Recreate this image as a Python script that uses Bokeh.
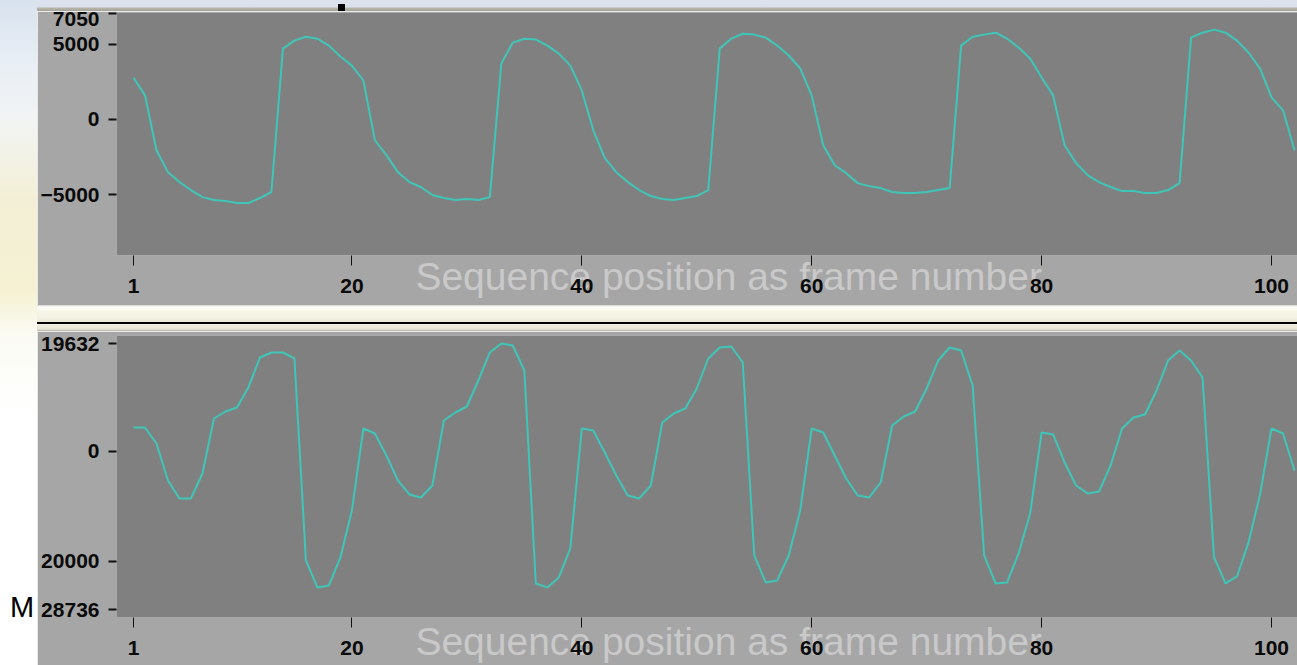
from bokeh.plotting import figure
from bokeh.models import FixedTicker, Div, ColumnDataSource, Range1d, LinearAxis
from bokeh.layouts import row, column
from bokeh.embed import file_html
from bokeh.resources import INLINE

# ---------------- data ----------------
frames = list(range(1, 103))

top_values = [2780, 1590, -2050, -3510, -4170, -4700, -5170, -5360, -5430, -5560,
              -5560, -5230, -4830, 4700, 5230, 5490, 5360, 4900, 4170, 3570,
              2580, -1390, -2380, -3510, -4170, -4500, -5030, -5230, -5360, -5300,
              -5360, -5170, 3710, 5100, 5360, 5300, 4900, 4370, 3570, 1920,
              -730, -2580, -3510, -4170, -4700, -5100, -5300, -5360, -5230, -5100,
              -4700, 4700, 5360, 5690, 5630, 5430, 4900, 4240, 3380, 1590,
              -1720, -3050, -3580, -4240, -4440, -4570, -4830, -4900, -4900, -4830,
              -4700, -4570, 4900, 5490, 5630, 5760, 5360, 4770, 4040, 2780,
              1590, -1720, -2910, -3710, -4170, -4500, -4770, -4770, -4900, -4900,
              -4700, -4240, 5430, 5760, 5960, 5760, 5230, 4440, 3380, 1460,
              600, -2050]

bottom_values = [4360, 4360, 1450, -5270, -8540, -8540, -4000, 6000, 7270, 8000,
                 11640, 17090, 18000, 18000, 16910, -19820, -24720, -24360, -19270, -10730,
                 4180, 3270, -730, -5270, -7820, -8360, -6180, 5640, 7090, 8180,
                 12910, 18000, 19630, 19270, 14730, -24000, -24720, -22910, -17630, 4180,
                 3820, -180, -4360, -8000, -8540, -6180, 5270, 6910, 7820, 11450,
                 16910, 18910, 19090, 16180, -18910, -23820, -23450, -18910, -10730, 4180,
                 3450, -730, -4910, -8000, -8360, -5640, 4730, 6360, 7270, 11450,
                 16540, 18910, 18360, 12000, -18910, -24000, -23820, -18540, -11270, 3450,
                 3090, -2000, -6180, -7640, -7270, -2550, 4180, 6180, 6730, 11090,
                 16540, 18360, 16540, 13450, -19270, -24000, -22730, -16540, -7820, 4180,
                 3270, -3450]

x_ticks = [1, 20, 40, 60, 80, 100]
top_y_ticks = [-5000, 0, 5000, 7050]
bottom_y_ticks = [-28736, -20000, 0, 19632]
# labels as they appear in the picture (minus signs clipped by the window edge)
bottom_y_labels = {-28736: "28736", -20000: "20000", 0: "0", 19632: "19632"}
axis_title = "Sequence position as frame number"

# ---------------- style ----------------
LINE = "#3ec6b8"
FRAME = "#808080"
PANEL = "#a6a6a6"
TICK_FONT = "Liberation Sans"
NBSP = "\u00a0"


def make_panel(values, y_start, y_end, y_ticks, overrides, height, top_b, bottom_b, title_standoff):
    src = ColumnDataSource(dict(frame=frames, value=values))
    p = figure(width=1260, height=height, output_backend="svg", toolbar_location=None,
               x_range=Range1d(-0.478, 102.26), y_range=Range1d(y_start, y_end),
               min_border_left=78, min_border_right=0,
               min_border_top=top_b, min_border_bottom=bottom_b,
               background_fill_color=FRAME, border_fill_color=PANEL,
               outline_line_color=None, margin=0)
    p.line("frame", "value", source=src, line_color=LINE, line_width=2)
    p.grid.visible = False

    for ax in (p.xaxis[0], p.yaxis[0]):
        ax.axis_line_color = None
        ax.major_tick_in = 0
        ax.minor_tick_in = 0
        ax.minor_tick_out = 0
        ax.major_tick_line_color = "#111111"
        ax.major_label_text_font = TICK_FONT
        ax.major_label_text_font_style = "bold"
        ax.major_label_text_font_size = "21px"
        ax.major_label_text_color = "#0a0a0a"

    xa = p.xaxis[0]
    xa.ticker = FixedTicker(ticks=x_ticks)
    xa.major_tick_out = 10
    xa.major_tick_line_width = 1
    xa.major_label_standoff = 13
    xa.level = "annotation"          # tick labels drawn over the faint axis title

    ya = p.yaxis[0]
    ya.ticker = FixedTicker(ticks=y_ticks)
    ya.major_tick_out = 8
    ya.major_tick_line_width = 2
    ya.major_label_standoff = 9
    if overrides:
        ya.major_label_overrides = overrides

    # faint axis title, pulled up so that it sits behind the tick labels
    title_axis = LinearAxis(ticker=FixedTicker(ticks=[]), axis_label=NBSP * 4 + axis_title,
                            axis_label_standoff=title_standoff,
                            axis_label_text_font="Liberation Sans",
                            axis_label_text_font_size="39px",
                            axis_label_text_font_style="normal",
                            axis_label_text_color="#c9c9c9",
                            axis_line_color=None, major_tick_out=0, major_tick_in=0,
                            minor_tick_out=0, minor_tick_in=0, major_label_standoff=0,
                            level="guide")
    p.add_layout(title_axis, "below")
    return p


top = make_panel(top_values, -9050, 7100, top_y_ticks, None,
                 height=294, top_b=1, bottom_b=50, title_standoff=-41)
bottom = make_panel(bottom_values, -30190, 21090, bottom_y_ticks, bottom_y_labels,
                    height=334, top_b=4, bottom_b=48, title_standoff=-38)

top_strip = Div(text="<div style='margin-left:301px;width:7px;height:8px;background:#000'></div>",
                width=1260, height=11, margin=0,
                styles={"background": "linear-gradient(to bottom, #dde3ee 0px, #dbe1ec 7px, "
                                      "#b9b7aa 8px, #a9a79a 10px, #a6a6a6 11px)",
                        "overflow": "hidden"})

separator = Div(text="", width=1260, height=26, margin=0,
                styles={"background": "linear-gradient(to bottom, #d4d2c4 0px, #ffffff 2px, "
                                      "#f8f6ea 6px, #f3f1e2 13px, #e8e6d6 17px, #000000 17px, "
                                      "#000000 19px, #f2f0e2 19px, #e6e4d4 24px, #b8b6aa 26px)"})

left_strip = Div(text="<div style='height:593px'></div>"
                      "<div style=\"padding-left:10px;font-family:'Liberation Sans';"
                      "font-size:29px;line-height:29px;color:#000\">M</div>",
                 width=37, height=665, margin=0,
                 styles={"background": "linear-gradient(to bottom, #d8e2ee 0px, #e8eef5 60px, "
                                       "#f2f4f4 120px, #f3efd6 200px, #f5f1d2 290px, "
                                       "#fbfbf4 335px, #ffffff 420px, #ffffff 665px)",
                         "overflow": "hidden"})

layout = row(left_strip, column(top_strip, top, separator, bottom, spacing=0), spacing=0)

open("out.html", "w").write(file_html(layout, INLINE))
